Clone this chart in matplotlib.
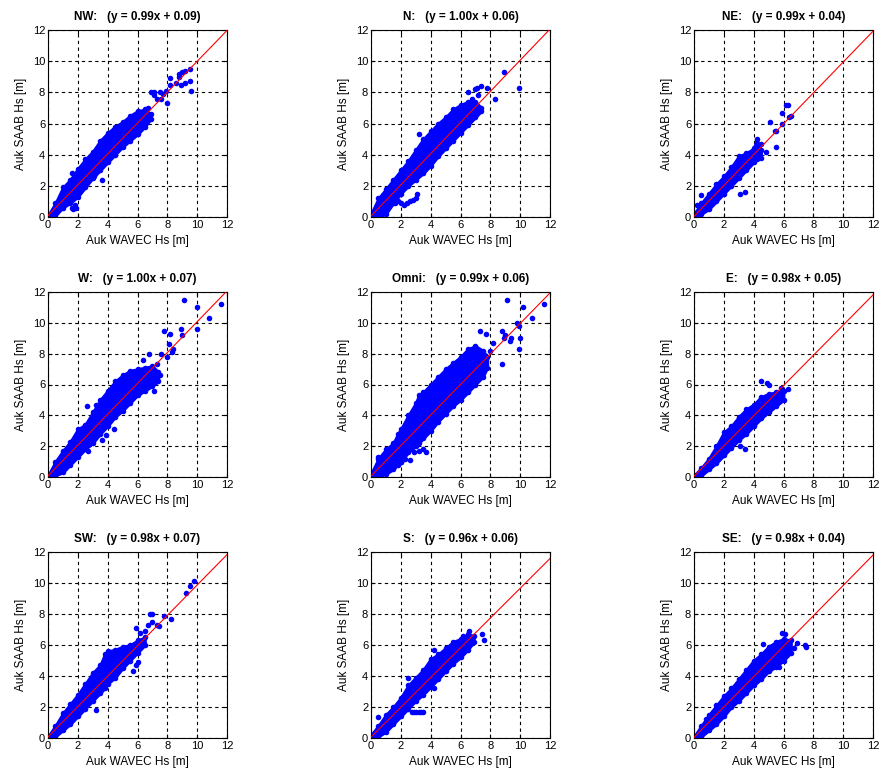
import matplotlib
matplotlib.use("Agg")
import matplotlib.pyplot as plt
import numpy as np

plt.rcParams['font.family'] = ['Liberation Sans', 'DejaVu Sans']

# panel names and fitted lines (read from titles)
names = ["NW", "N", "NE", "W", "Omni", "E", "SW", "S", "SE"]
slopes = [0.99, 1.00, 0.99, 1.00, 0.99, 0.98, 0.98, 0.96, 0.98]
offsets = [0.09, 0.06, 0.04, 0.07, 0.06, 0.05, 0.07, 0.06, 0.04]

# dense cloud: upper / lower edge, plus loose points
nw_x = [0, 0.5, 1.0, 1.5, 2.0, 2.5, 3.0, 3.5, 4.0, 4.5, 5.0, 5.5, 6.0, 6.5, 6.9]
nw_hi = [0.1, 0.9, 1.9, 2.4, 3.1, 3.7, 4.2, 4.9, 5.4, 5.8, 6.1, 6.5, 6.8, 6.9, 6.6]
nw_lo = [0.0, 0.1, 0.6, 0.9, 1.3, 1.9, 2.5, 3.0, 3.5, 4.0, 4.5, 4.9, 5.3, 5.8, 6.3]
nw_px = [1.6, 1.7, 1.8, 1.9, 1.6, 2.6, 3.1, 3.6, 4.4, 6.3, 6.7, 6.9, 7.1, 7.3, 7.6, 7.5,
         8.0, 7.7, 7.9, 8.2, 8.2, 8.6, 8.8, 9.0, 9.2, 9.5, 8.9, 9.2, 9.5, 9.6, 8.8, 7.1]
nw_py = [0.6, 0.5, 0.8, 0.6, 2.8, 2.5, 2.6, 2.4, 5.6, 6.6, 7.0, 8.0, 7.8, 7.6, 7.6, 8.0,
         7.3, 7.9, 8.1, 8.5, 8.9, 8.6, 9.0, 9.3, 9.4, 9.5, 8.5, 8.6, 8.7, 8.1, 9.2, 8.0]

n_x = [0, 0.5, 1.0, 1.5, 2.0, 2.5, 3.0, 3.5, 4.0, 4.5, 5.0, 5.5, 6.0, 6.5, 7.0, 7.4]
n_hi = [0.2, 1.2, 1.8, 2.4, 3.0, 3.6, 4.3, 5.0, 5.5, 6.0, 6.4, 6.9, 7.2, 7.4, 7.4, 7.0]
n_lo = [0.0, 0.0, 0.2, 0.9, 1.5, 2.0, 2.4, 2.8, 3.3, 3.9, 4.4, 4.9, 5.4, 5.9, 6.4, 6.8]
n_px = [1.6, 1.8, 2.0, 2.2, 2.4, 2.6, 2.8, 3.0, 3.1, 3.2, 6.5, 6.8, 7.0, 7.1, 7.2, 7.4,
        7.8, 8.3, 8.9, 9.9]
n_py = [0.9, 1.0, 0.9, 0.8, 0.9, 1.0, 1.1, 1.2, 1.5, 5.3, 8.0, 7.6, 8.2, 8.3, 7.8, 8.4,
        8.3, 7.6, 9.3, 8.3]

ne_x = [0, 0.5, 1.0, 1.5, 2.0, 2.5, 3.0, 3.5, 4.0, 4.2, 4.5]
ne_hi = [0.2, 0.9, 1.5, 2.1, 2.6, 3.2, 3.9, 4.1, 4.4, 5.0, 4.3]
ne_lo = [0.0, 0.2, 0.5, 1.0, 1.5, 2.0, 2.5, 3.0, 3.5, 3.7, 3.8]
ne_px = [0.2, 0.5, 3.1, 3.4, 4.5, 4.8, 5.1, 5.4, 5.5, 5.5, 5.9, 5.9, 6.2, 6.3, 6.4, 6.5]
ne_py = [0.8, 1.4, 1.5, 1.6, 4.7, 4.2, 6.1, 5.5, 5.5, 4.5, 6.0, 6.7, 7.2, 7.2, 6.4, 6.5]

w_x = [0, 0.5, 1.0, 1.5, 2.0, 2.5, 3.0, 3.5, 4.0, 4.5, 5.0, 5.5, 6.0, 6.5, 7.0, 7.4]
w_hi = [0.1, 1.0, 1.7, 2.3, 3.1, 3.4, 4.2, 5.0, 5.6, 6.2, 6.6, 6.9, 7.0, 7.1, 7.2, 6.8]
w_lo = [0.0, 0.1, 0.3, 0.8, 1.3, 1.8, 2.2, 2.8, 3.3, 3.9, 4.3, 4.8, 5.3, 5.6, 5.9, 6.2]
w_px = [2.7, 2.6, 3.6, 3.9, 4.4, 4.3, 3.25, 6.4, 6.8, 7.3, 7.6, 8.0, 8.1, 7.8, 8.2, 8.4,
        8.3, 7.1, 7.5, 8.9, 9.0, 9.1, 10.0, 10.0, 10.8, 11.6]
w_py = [1.7, 4.6, 2.4, 2.7, 3.1, 5.8, 4.7, 7.6, 8.0, 7.3, 8.0, 7.8, 8.6, 9.5, 9.3, 8.3,
        8.1, 5.6, 6.6, 9.6, 9.2, 11.5, 9.6, 11.0, 10.3, 11.2]

om_x = [0, 0.5, 1.0, 1.5, 1.8, 2.0, 2.5, 3.0, 3.2, 3.5, 4.0, 4.5, 5.0, 5.5, 6.0, 6.5,
        7.0, 7.5, 7.8]
om_hi = [0.2, 1.2, 1.8, 2.2, 2.8, 3.1, 4.0, 4.8, 5.3, 5.5, 6.0, 6.5, 7.0, 7.4, 7.8, 8.3,
         8.5, 8.2, 7.8]
om_lo = [0.0, 0.0, 0.2, 0.5, 0.8, 1.0, 1.6, 2.0, 2.2, 2.5, 3.0, 3.6, 4.1, 4.6, 5.0, 5.5,
         6.0, 6.5, 7.1]
om_px = [0.5, 1.2, 1.6, 2.0, 2.3, 2.6, 2.9, 3.2, 3.5, 3.7, 7.3, 7.6, 7.7, 8.0, 8.2, 8.8,
         8.9, 9.0, 9.1, 9.3, 9.4, 9.9, 9.8, 9.9, 10.0, 10.2, 10.8, 11.6, 8.8]
om_py = [1.3, 1.0, 1.1, 1.0, 1.2, 1.1, 1.6, 1.7, 1.8, 1.6, 9.5, 7.8, 9.3, 8.2, 8.7, 9.5,
         9.0, 9.2, 11.5, 8.8, 9.0, 8.3, 10.0, 9.8, 9.0, 11.0, 10.3, 11.2, 7.35]

e_x = [0, 0.5, 1.0, 1.5, 2.0, 2.5, 3.0, 3.5, 4.0, 4.5, 5.0, 5.5, 6.0]
e_hi = [0.1, 0.6, 1.2, 2.0, 2.9, 3.3, 3.9, 4.4, 4.7, 5.2, 5.4, 5.5, 5.6]
e_lo = [0.0, 0.1, 0.5, 0.9, 1.4, 1.9, 2.4, 2.8, 3.3, 3.8, 4.2, 4.6, 5.0]
e_px = [3.4, 3.1, 4.5, 4.9, 5.0, 5.8, 6.3]
e_py = [1.8, 2.0, 6.2, 6.1, 6.0, 5.8, 5.7]

sw_x = [0, 0.5, 1.0, 1.5, 2.0, 2.5, 3.0, 3.5, 3.8, 4.0, 4.5, 5.0, 5.5, 6.0, 6.5]
sw_hi = [0.1, 0.8, 1.6, 2.2, 2.8, 3.5, 4.2, 4.7, 5.4, 5.6, 5.7, 5.9, 6.0, 6.3, 6.5]
sw_lo = [0.0, 0.1, 0.5, 0.9, 1.4, 1.9, 2.4, 2.9, 3.2, 3.5, 3.9, 4.5, 5.0, 5.5, 6.0]
sw_px = [3.2, 5.7, 5.9, 6.0, 5.9, 6.2, 6.5, 6.7, 6.85, 7.0, 7.0, 7.3, 7.45, 7.75, 8.26,
         9.25, 9.54, 9.8]
sw_py = [1.8, 4.35, 4.7, 4.9, 7.1, 6.8, 6.9, 7.3, 8.0, 8.0, 7.5, 7.3, 7.2, 7.85, 7.7,
         9.35, 9.8, 10.1]

s_x = [0, 0.5, 1.0, 1.5, 2.0, 2.5, 3.0, 3.5, 4.0, 4.5, 5.0, 5.5, 6.0, 6.5, 6.9]
s_hi = [0.2, 0.8, 1.5, 2.0, 2.6, 3.4, 3.9, 4.4, 5.1, 5.4, 5.8, 6.2, 6.4, 6.7, 6.6]
s_lo = [0.0, 0.1, 0.4, 0.9, 1.4, 1.9, 2.4, 2.8, 3.3, 3.8, 4.3, 4.8, 5.2, 5.7, 6.2]
s_px = [2.76, 2.9, 3.05, 3.2, 3.35, 3.48, 4.2, 2.5, 4.2, 7.47, 7.6, 6.2, 6.6, 0.45]
s_py = [1.65, 1.65, 1.65, 1.65, 1.65, 1.65, 3.2, 3.9, 5.7, 6.7, 6.35, 6.6, 6.9, 1.33]

se_x = [0, 0.5, 1.0, 1.5, 2.0, 2.5, 3.0, 3.5, 4.0, 4.5, 5.0, 5.5, 6.0, 6.5]
se_hi = [0.1, 0.8, 1.5, 2.1, 2.7, 3.2, 3.8, 4.4, 5.0, 5.4, 5.9, 6.2, 6.4, 6.3]
se_lo = [0.0, 0.1, 0.5, 0.9, 1.4, 2.0, 2.4, 2.9, 3.4, 3.8, 4.3, 4.6, 5.0, 5.5]
se_px = [0.8, 4.6, 5.9, 6.1, 5.7, 6.7, 6.9, 7.5, 7.45]
se_py = [1.2, 6.06, 6.8, 6.7, 4.6, 5.8, 6.1, 5.9, 6.0]

clouds = [(nw_x, nw_hi, nw_lo, nw_px, nw_py), (n_x, n_hi, n_lo, n_px, n_py),
          (ne_x, ne_hi, ne_lo, ne_px, ne_py), (w_x, w_hi, w_lo, w_px, w_py),
          (om_x, om_hi, om_lo, om_px, om_py), (e_x, e_hi, e_lo, e_px, e_py),
          (sw_x, sw_hi, sw_lo, sw_px, sw_py), (s_x, s_hi, s_lo, s_px, s_py),
          (se_x, se_hi, se_lo, se_px, se_py)]

W, H = 882, 774
fig = plt.figure(figsize=(W / 100, H / 100), dpi=100)

# axes boxes in pixels: left edges / top-bottom of each row
col_left = [48, 371, 694]
ax_w = 179
row_tb = [(30, 217), (292, 477), (552, 738)]

ticks = [0, 2, 4, 6, 8, 10, 12]
blue = "#0000ff"

for i, name in enumerate(names):
    r, c = divmod(i, 3)
    top, bot = row_tb[r]
    ax = fig.add_axes([col_left[c] / W, 1 - bot / H, ax_w / W, (bot - top) / H])

    x, hi, lo, px, py = clouds[i]
    ax.fill_between(x, lo, hi, color=blue, lw=2, edgecolor=blue, zorder=2)
    ax.scatter(x, hi, s=16, color=blue, marker='o', lw=0, zorder=2)
    ax.scatter(x, lo, s=16, color=blue, marker='o', lw=0, zorder=2)
    ax.scatter(px, py, s=16, color=blue, marker='o', lw=0, zorder=2)

    fx = np.array([0, 12])
    ax.plot(fx, slopes[i] * fx + offsets[i], color="red", lw=0.8, zorder=3)

    ax.set_xlim(0, 12)
    ax.set_ylim(0, 12)
    ax.set_xticks(ticks)
    ax.set_yticks(ticks)
    ax.grid(True, color="black", linestyle=(0, (3, 3)), lw=0.8)
    ax.set_axisbelow(True)
    ax.tick_params(direction="in", length=3, labelsize=8, pad=2, top=True, right=True)
    for sp in ax.spines.values():
        sp.set_linewidth(0.8)
    ax.set_xlabel("Auk WAVEC Hs [m]", fontsize=8.5, labelpad=4)
    ax.set_ylabel("Auk SAAB Hs [m]", fontsize=8.5, labelpad=4)
    ax.set_title("%s:   (y = %.2fx + %.2f)" % (name, slopes[i], offsets[i]),
                 fontsize=8.5, fontweight="bold", pad=7)

fig.savefig("out.png", dpi=100)
